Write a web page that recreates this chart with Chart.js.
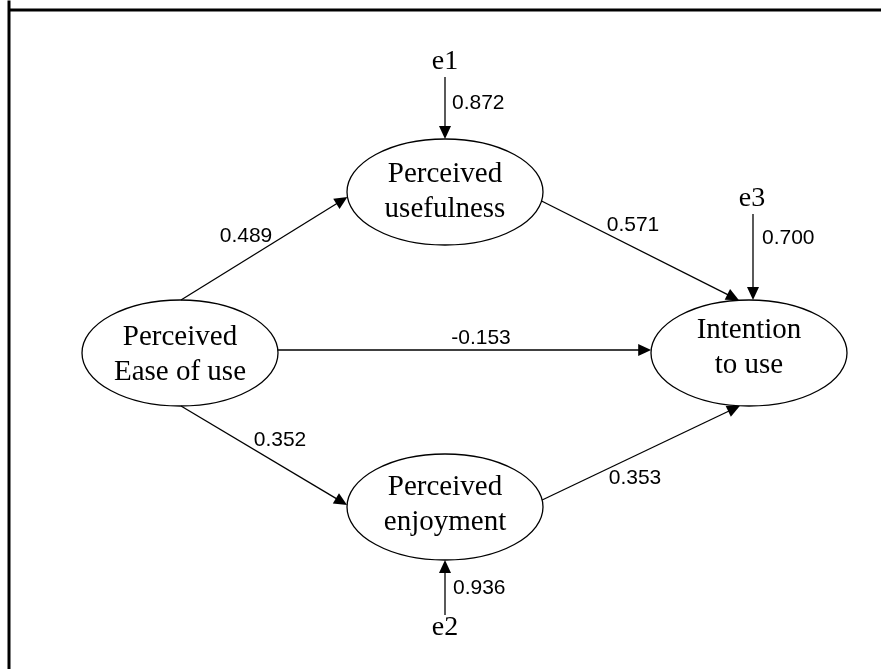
<!DOCTYPE html>
<html lang="en">
  <head>
    <meta charset="UTF-8" />
    <title>Path model</title>
    <script src="https://cdn.jsdelivr.net/npm/chart.js"></script>
    <style>
      html,
      body {
        margin: 0;
        padding: 0;
        background: #fff;
      }
      #wrap {
        width: 881px;
        height: 669px;
      }
    </style>
  </head>
  <body>
    <div id="wrap">
      <canvas id="myChart"></canvas>
    </div>

    <script>
      // latent constructs
      const constructs = ["Perceived\nEase of use", "Perceived\nusefulness", "Perceived\nenjoyment", "Intention\nto use"];

      // structural paths (from -> to) and their coefficients
      const pathFrom = [0, 1, 0, 0, 2];
      const pathTo = [1, 3, 3, 2, 3];
      const pathCoef = [0.489, 0.571, -0.153, 0.352, 0.353];

      // error terms
      const errorNames = ["e1", "e2", "e3"];
      const errorTarget = [1, 2, 3];
      const errorCoef = [0.872, 0.936, 0.7];

      // board layout (diagram units)
      const layout = {
        centers: [[180, 353], [445, 192], [445, 507], [749, 353]],
        rx: 98,
        ry: 53,
        firstLine: [-8, -10, -12, -15],
        // [side, offset] for start and end of each path
        pathEnds: [
          [["top", 1], ["left", 5]],
          [["right", 9], ["top", -10]],
          [["right", -3], ["left", -3]],
          [["bottom", 1], ["left", -2]],
          [["right", -7], ["bottom", -9]],
        ],
        pathLabels: [[246, 236], [633, 225], [481, 338], [280, 440], [635, 478]],
        errorLabels: [[445, 62], [445, 628], [752, 199]],
        errorStart: [[445, 77], [445, 615], [753, 214]],
        errorOffset: [0, 0, 4],
        errorCoefAt: [[452, 103], [453, 588], [762, 238]],
      };

      function anchor(i, side, off) {
        const [cx, cy] = layout.centers[i];
        const rx = layout.rx, ry = layout.ry;
        if (side === "top" || side === "bottom") {
          const dy = ry * Math.sqrt(1 - (off / rx) ** 2);
          return [cx + off, side === "top" ? cy - dy : cy + dy];
        }
        const dx = rx * Math.sqrt(1 - (off / ry) ** 2);
        return [side === "left" ? cx - dx : cx + dx, cy + off];
      }

      const diagramPlugin = {
        id: "diagram",
        afterDatasetsDraw(chart) {
          const ctx = chart.ctx;
          const xs = chart.scales.x, ys = chart.scales.y;
          const px = (v) => xs.getPixelForValue(v);
          const py = (v) => ys.getPixelForValue(v);
          const sx = px(1) - px(0), sy = py(1) - py(0);

          ctx.save();
          // frame (top and left edge)
          ctx.strokeStyle = "#000";
          ctx.lineWidth = 3;
          ctx.beginPath();
          ctx.moveTo(px(9), py(881));
          ctx.lineTo(px(9), py(0) + 0.5);
          ctx.moveTo(px(7.5), py(10));
          ctx.lineTo(px(881), py(10));
          ctx.stroke();

          function arrow(x1, y1, x2, y2) {
            const a1 = px(x1), b1 = py(y1), a2 = px(x2), b2 = py(y2);
            const ang = Math.atan2(b2 - b1, a2 - a1);
            const L = 13, W = 6;
            ctx.lineWidth = 1.3;
            ctx.beginPath();
            ctx.moveTo(a1, b1);
            ctx.lineTo(a2 - Math.cos(ang) * (L - 2), b2 - Math.sin(ang) * (L - 2));
            ctx.stroke();
            ctx.beginPath();
            ctx.moveTo(a2, b2);
            ctx.lineTo(a2 - L * Math.cos(ang) + W * Math.sin(ang), b2 - L * Math.sin(ang) - W * Math.cos(ang));
            ctx.lineTo(a2 - L * Math.cos(ang) - W * Math.sin(ang), b2 - L * Math.sin(ang) + W * Math.cos(ang));
            ctx.closePath();
            ctx.fill();
          }

          // ellipses with their names
          const meta = chart.getDatasetMeta(0);
          ctx.fillStyle = "#000";
          meta.data.forEach((pt, i) => {
            ctx.lineWidth = 1.3;
            ctx.beginPath();
            ctx.ellipse(pt.x, pt.y, layout.rx * sx, Math.abs(layout.ry * sy), 0, 0, Math.PI * 2);
            ctx.stroke();
            ctx.font = '29px "Liberation Serif", "Times New Roman", serif';
            ctx.textAlign = "center";
            ctx.textBaseline = "alphabetic";
            constructs[i].split("\n").forEach((line, k) => {
              ctx.fillText(line, pt.x, pt.y + layout.firstLine[i] + k * 35);
            });
          });

          // structural paths
          pathFrom.forEach((f, i) => {
            const [s, e] = layout.pathEnds[i];
            const p1 = anchor(f, s[0], s[1]);
            const p2 = anchor(pathTo[i], e[0], e[1]);
            arrow(p1[0], p1[1], p2[0], p2[1]);
            ctx.font = '21px "Liberation Sans", Arial, sans-serif';
            ctx.textAlign = "center";
            ctx.textBaseline = "middle";
            const [lx, ly] = layout.pathLabels[i];
            ctx.fillText(pathCoef[i].toFixed(3), px(lx), py(ly));
          });

          // error terms
          errorNames.forEach((name, i) => {
            const t = errorTarget[i];
            const [sxp, syp] = layout.errorStart[i];
            const side = layout.centers[t][1] > syp ? "top" : "bottom";
            const p2 = anchor(t, side, layout.errorOffset[i]);
            arrow(sxp, syp, p2[0], p2[1]);
            ctx.font = '28px "Liberation Serif", "Times New Roman", serif';
            ctx.textAlign = "center";
            ctx.textBaseline = "middle";
            ctx.fillText(name, px(layout.errorLabels[i][0]), py(layout.errorLabels[i][1]));
            ctx.font = '21px "Liberation Sans", Arial, sans-serif';
            ctx.textAlign = "left";
            ctx.fillText(errorCoef[i].toFixed(3), px(layout.errorCoefAt[i][0]), py(layout.errorCoefAt[i][1]));
          });
          ctx.restore();
        },
      };

      function drawChart(tag) {
        const ctx = document.getElementById(tag);
        const data = {
          datasets: [
            {
              label: "constructs",
              data: layout.centers.map((c) => ({ x: c[0], y: c[1] })),
              pointRadius: 0,
              pointHoverRadius: 0,
            },
          ],
        };
        const options = {
          responsive: true,
          maintainAspectRatio: false,
          animation: false,
          layout: { padding: 0 },
          plugins: { legend: { display: false }, tooltip: { enabled: false } },
          events: [],
          scales: {
            x: { type: "linear", min: 0, max: 881, display: false },
            y: { type: "linear", min: 0, max: 669, reverse: true, display: false },
          },
        };
        new Chart(ctx, { type: "scatter", data: data, options: options, plugins: [diagramPlugin] });
      }
      drawChart("myChart");
    </script>
  </body>
</html>
